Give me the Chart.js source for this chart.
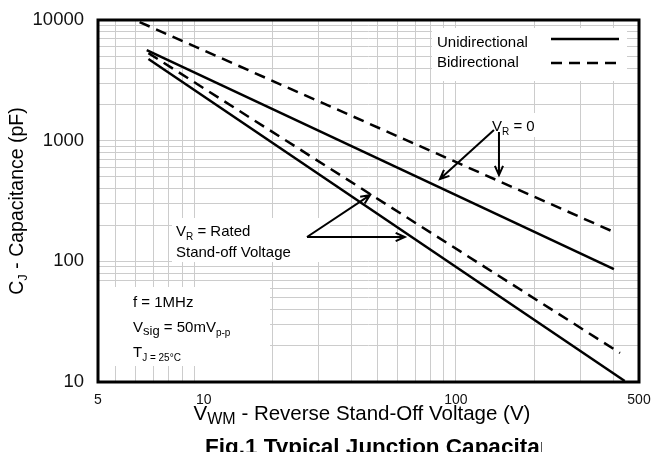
<!DOCTYPE html>
<html>
<head>
<meta charset="utf-8">
<script src="https://cdn.jsdelivr.net/npm/chart.js@4.4.0/dist/chart.umd.min.js"></script>
<style>
  html, body { margin: 0; padding: 0; background: #fff; }
  #wrap { width: 654px; height: 452px; }
</style>
</head>
<body>
<div id="wrap"><canvas id="capChart"></canvas></div>
<script>
// Axis ranges (the original labels its left edge "5" though it sits a bit below 5 V)
const xMin = 4.3;
const xMax = 500;
const yMin = 10;
const yMax = 10000;

// Grid lines and labelled ticks
const xGrid = [5, 6, 7, 8, 9, 10, 20, 30, 40, 50, 60, 70, 80, 90, 100, 200, 300, 400, 500];
const xLabelValues = [4.3, 10, 100, 500];
const xLabelTexts = ['5', '     10', '100', '500'];
const yGrid = [10, 20, 30, 40, 50, 60, 70, 80, 90, 100, 200, 300, 400, 500, 600, 700, 800, 900,
  1000, 2000, 3000, 4000, 5000, 6000, 7000, 8000, 9000, 10000];
const yLabelValues = [10, 100, 1000, 10000];

// Series end points (straight lines on log-log axes)
const uniZeroV = [6.6, 401];      // unidirectional, V_R = 0
const uniZeroC = [5640, 86];
const biZeroV = [6.2, 401];       // bidirectional, V_R = 0
const biZeroC = [9620, 175];
const uniRatedV = [6.7, 441];     // unidirectional, V_R = rated
const uniRatedC = [4750, 10.2];
const biRatedV = [6.7, 423];      // bidirectional, V_R = rated
const biRatedC = [5320, 17.4];

const FONT = '"Liberation Sans", Arial, sans-serif';
const pts = (xs, ys) => xs.map((x, i) => ({ x: x, y: ys[i] }));

function lineSet(label, xs, ys, dashed) {
  return {
    label: label,
    data: pts(xs, ys),
    borderColor: '#000',
    borderWidth: 2.5,
    borderDash: dashed ? [11, 7] : [],
    pointRadius: 0,
    tension: 0,
    fill: false,
  };
}

// draw text made of runs: [text, size, dy]
function rich(ctx, x, y, parts, align, bold) {
  const f = s => (bold ? 'bold ' : '') + s + 'px ' + FONT;
  let w = 0;
  parts.forEach(p => { ctx.font = f(p[1]); w += ctx.measureText(p[0]).width; });
  let cx = align === 'center' ? x - w / 2 : x;
  parts.forEach(p => {
    ctx.font = f(p[1]);
    ctx.fillText(p[0], cx, y + (p[2] || 0));
    cx += ctx.measureText(p[0]).width;
  });
}

function arrow(ctx, x1, y1, x2, y2) {
  const a = Math.atan2(y2 - y1, x2 - x1), h = 10, s = 0.42;
  ctx.beginPath();
  ctx.moveTo(x1, y1);
  ctx.lineTo(x2, y2);
  ctx.moveTo(x2 - h * Math.cos(a - s), y2 - h * Math.sin(a - s));
  ctx.lineTo(x2, y2);
  ctx.lineTo(x2 - h * Math.cos(a + s), y2 - h * Math.sin(a + s));
  ctx.stroke();
}

const decorations = {
  id: 'decorations',
  beforeDatasetsDraw(chart) {
    // white label panels that hide the grid
    const ctx = chart.ctx, a = chart.chartArea;
    ctx.save();
    ctx.fillStyle = '#fff';
    ctx.fillRect(432, 28, 195, 53);           // legend
    ctx.fillRect(172, 218, 158, 44);          // V_R = Rated
    ctx.fillRect(a.left, 287, 270 - a.left, 79); // test conditions
    ctx.fillRect(488, 113, 54, 24);           // V_R = 0
    ctx.restore();
  },
  afterDraw(chart) {
    const ctx = chart.ctx, a = chart.chartArea;
    const X = v => chart.scales.x.getPixelForValue(v);
    const Y = v => chart.scales.y.getPixelForValue(v);
    ctx.save();
    ctx.fillStyle = '#000';
    ctx.strokeStyle = '#000';
    ctx.textBaseline = 'alphabetic';

    // frame
    ctx.lineWidth = 3;
    ctx.strokeRect(a.left, a.top, a.right - a.left, a.bottom - a.top);

    // legend
    rich(ctx, 437, 47, [['Unidirectional', 15]]);
    rich(ctx, 437, 67, [['Bidirectional', 15]]);
    ctx.lineWidth = 2.5;
    ctx.beginPath(); ctx.moveTo(551, 39); ctx.lineTo(619, 39); ctx.stroke();
    ctx.setLineDash([11, 7]);
    ctx.beginPath(); ctx.moveTo(551, 63); ctx.lineTo(621, 63); ctx.stroke();
    ctx.setLineDash([]);

    // annotations
    rich(ctx, 492, 131, [['V', 15], ['R', 10, 4], [' = 0', 15]]);
    rich(ctx, 176, 236, [['V', 15], ['R', 10, 4], [' = Rated', 15]]);
    rich(ctx, 176, 257, [['Stand-off Voltage', 15]]);
    rich(ctx, 133, 307, [['f = 1MHz', 15]]);
    rich(ctx, 133, 332, [['V', 15], ['sig', 13, 3], [' = 50mV', 15], ['p-p', 10, 4]]);
    rich(ctx, 133, 357, [['T', 15], ['J = 25°C', 10, 4]]);

    ctx.lineWidth = 2;
    arrow(ctx, X(139.7), Y(1225), X(86.9), Y(481));
    arrow(ctx, X(146), Y(1178), X(146), Y(519));
    arrow(ctx, X(27), Y(159), X(47), Y(354));
    arrow(ctx, X(27), Y(159), X(63.8), Y(159));

    // axis titles
    rich(ctx, 362, 420, [['V', 20.5], ['WM', 16, 4], [' - Reverse Stand-Off Voltage (V)', 20.5]], 'center');
    ctx.save();
    ctx.translate(23, (a.top + a.bottom) / 2);
    ctx.rotate(-Math.PI / 2);
    rich(ctx, 0, 0, [['C', 19.5], ['J', 13, 4], [' - Capacitance (pF)', 19.5]], 'center');
    ctx.restore();

    // figure caption, clipped by its text box and the bottom edge as in the original
    ctx.save();
    ctx.beginPath();
    ctx.rect(0, 430, 542, 30);
    ctx.clip();
    rich(ctx, 205, 454, [['Fig.1 Typical Junction Capacitance', 22.5]], 'left', true);
    ctx.restore();
    ctx.restore();
  }
};

new Chart(document.getElementById('capChart'), {
  type: 'line',
  data: {
    datasets: [
      lineSet('Unidirectional V_R = 0', uniZeroV, uniZeroC, false),
      lineSet('Bidirectional V_R = 0', biZeroV, biZeroC, true),
      lineSet('Unidirectional V_R = Rated', uniRatedV, uniRatedC, false),
      lineSet('Bidirectional V_R = Rated', biRatedV, biRatedC, true),
    ],
  },
  options: {
    responsive: true,
    maintainAspectRatio: false,
    animation: false,
    layout: { padding: { left: 0, right: 15, top: 20, bottom: 0 } },
    plugins: { legend: { display: false }, tooltip: { enabled: false } },
    scales: {
      x: {
        type: 'logarithmic',
        min: xMin,
        max: xMax,
        afterBuildTicks: s => { s.ticks = [xMin].concat(xGrid).map(v => ({ value: v })); },
        afterFit: s => { s.height = 70; s.paddingLeft = 0; s.paddingRight = 0; },
        grid: { color: '#cccccc', lineWidth: 1, drawTicks: false },
        border: { display: false },
        ticks: {
          autoSkip: false,
          maxRotation: 0,
          padding: 10,
          color: '#111',
          font: { family: FONT, size: 14 },
          callback: v => { const i = xLabelValues.indexOf(v); return i < 0 ? '' : xLabelTexts[i]; },
        },
      },
      y: {
        type: 'logarithmic',
        min: yMin,
        max: yMax,
        afterBuildTicks: s => { s.ticks = yGrid.map(v => ({ value: v })); },
        afterFit: s => { s.width = 98; s.paddingTop = 0; s.paddingBottom = 0; },
        grid: { color: '#cccccc', lineWidth: 1, drawTicks: false },
        border: { display: false },
        ticks: {
          autoSkip: false,
          padding: 14,
          color: '#111',
          font: { family: FONT, size: 18.5 },
          callback: v => (yLabelValues.indexOf(v) < 0 ? '' : String(v)),
        },
      },
    },
  },
  plugins: [decorations],
});
</script>
</body>
</html>
